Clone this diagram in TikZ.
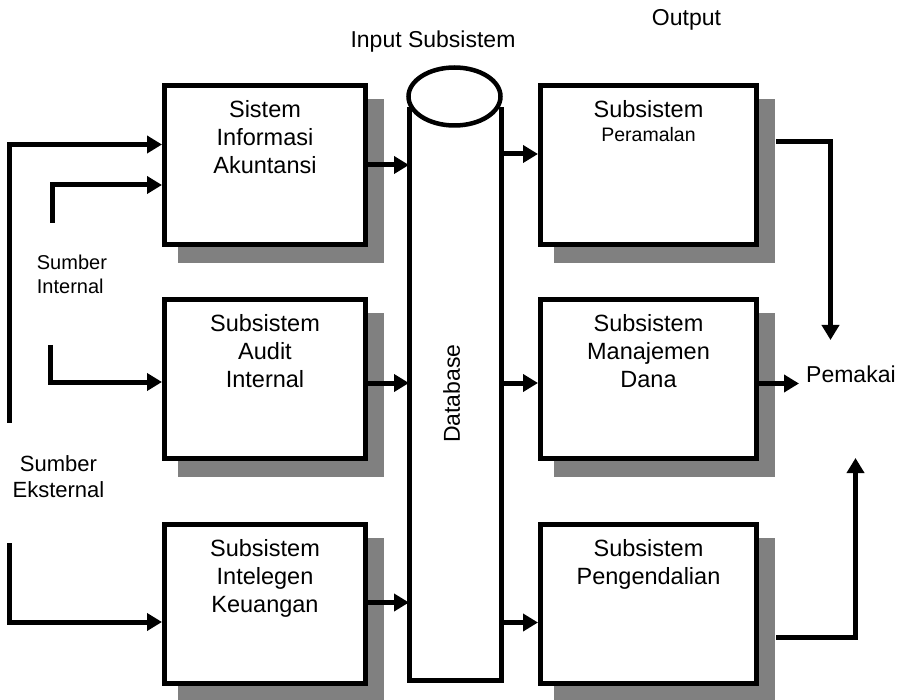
\documentclass[tikz,border=0pt]{standalone}
\usepackage{fontspec}
\setmainfont{Liberation Sans}
\usepackage{tikz}
\usetikzlibrary{shapes,arrows.meta,positioning,shadows}
\definecolor{shade}{RGB}{128,128,128}
\tikzstyle{sysbox} = [rectangle, draw=black, line width=5pt, fill=white, outer sep=2.5pt, minimum width=201pt, minimum height=159pt, drop shadow={shadow xshift=16pt, shadow yshift=-16pt, opacity=1, fill=shade, draw=shade, line width=5pt}]
\tikzstyle{outbox} = [sysbox, minimum width=216pt]
\tikzstyle{boxtextonly} = [draw=none, fill=none, align=center, inner sep=0pt, font=\fontsize{23.5pt}{28pt}\selectfont]
\tikzstyle{textonly} = [draw=none, fill=none, inner sep=0pt, font=\fontsize{23pt}{27pt}\selectfont]
\tikzstyle{dbbody} = [rectangle, draw=none, inner sep=0pt, outer sep=0pt, minimum width=92.5pt, minimum height=573.5pt]
\tikzstyle{dbtop} = [ellipse, draw=black, line width=4.5pt, inner sep=0pt, minimum width=92pt, minimum height=58pt]
\tikzstyle{tedge}  = [draw, line width=5pt, -{Triangle[length=15pt,width=17pt]}]
\tikzstyle{nedge}  = [draw, line width=5pt]

\begin{document}
\begin{tikzpicture}[x=1pt, y=-1pt]
\useasboundingbox (0,0) rectangle (907,700);
%subsystems=========================

\node[sysbox] (ais) at (265,165) {};
\node[sysbox, below=50pt of ais] (audit) {};
\node[sysbox, below=61pt of audit] (intel) {};
\node[outbox, right=170pt of ais] (fore) {};
\node[outbox, below=50pt of fore] (fund) {};
\node[outbox, below=61pt of fund] (ctrl) {};

\node[boxtextonly, below=17pt of ais.north] (aist) {Sistem\\Informasi\\Akuntansi};
\node[boxtextonly, below=17pt of audit.north] (auditt) {Subsistem\\Audit\\Internal};
\node[boxtextonly, below=17pt of intel.north] (intelt) {Subsistem\\Intelegen\\Keuangan};
\node[boxtextonly, below=17pt of fore.north] (foret) {Subsistem\\[-4pt]{\fontsize{19.5pt}{24pt}\selectfont Peramalan}};
\node[boxtextonly, below=17pt of fund.north] (fundt) {Subsistem\\Manajemen\\Dana};
\node[boxtextonly, below=17pt of ctrl.north] (ctrlt) {Subsistem\\Pengendalian};

%database=========================

\node[dbbody] (db) at (455.25,393.75) {};
\path[nedge] (db.north west) -- (db.south west) -- (db.south east) -- (db.north east);
\node[dbtop] (dbcap) at (454.5,96.5) {};
\node[textonly, rotate=90] (dbt) at ([xshift=-3.5pt]db.center) {Database};

\node[textonly, anchor=base] (insub) at (433,48) {Input Subsistem};
\node[textonly, anchor=base] (outl) at (686.5,26) {Output};

%sources=========================

\coordinate (ext1) at (9.5,422.5);
\coordinate (int1) at (52,223);
\coordinate (int2) at (50,345);
\coordinate (ext2) at (9.5,543);
\node[textonly, font=\fontsize{20pt}{24pt}\selectfont, align=left, anchor=north west] (sint) at (36.7,255) {Sumber\\Internal};
\node[textonly, font=\fontsize{22pt}{26pt}\selectfont, align=center, anchor=north] (sext) at (58.5,455) {Sumber\\Eksternal};

%users=========================

\node[textonly, anchor=base west, inner xsep=7pt] (user) at (799,382) {Pemakai};
\coordinate (u1) at (830.5,340);
\coordinate (u2) at (855.5,458);

% edges
\path[tedge] (ext1) |- ([yshift=20.5pt]ais.west);
\path[tedge] (int1) |- ([yshift=-20pt]ais.west);
\path[tedge] (int2) |- ([yshift=-3pt]audit.west);
\path[tedge] (ext2) |- ([yshift=-18pt]intel.west);

\path[tedge] (ais.east) -- (ais.east -| db.west);
\path[tedge] ([yshift=-4pt]audit.east) -- ([yshift=-4pt]audit.east -| db.west);
\path[tedge] ([yshift=1.5pt]intel.east) -- ([yshift=1.5pt]intel.east -| db.west);

\path[tedge] ([yshift=11pt]fore.west -| db.east) -- ([yshift=11pt]fore.west);
\path[tedge] ([yshift=-4pt]fund.west -| db.east) -- ([yshift=-4pt]fund.west);
\path[tedge] ([yshift=-18.5pt]ctrl.west -| db.east) -- ([yshift=-18.5pt]ctrl.west);

\path[tedge] ([xshift=17pt, yshift=23.5pt]fore.east) -| (u1);
\path[tedge] ([yshift=-4.5pt]fund.east) -- ([yshift=-4.5pt]fund.east -| user.west);
\path[tedge] ([xshift=17pt, yshift=-33pt]ctrl.east) -| (u2);

\end{tikzpicture}
\end{document}
